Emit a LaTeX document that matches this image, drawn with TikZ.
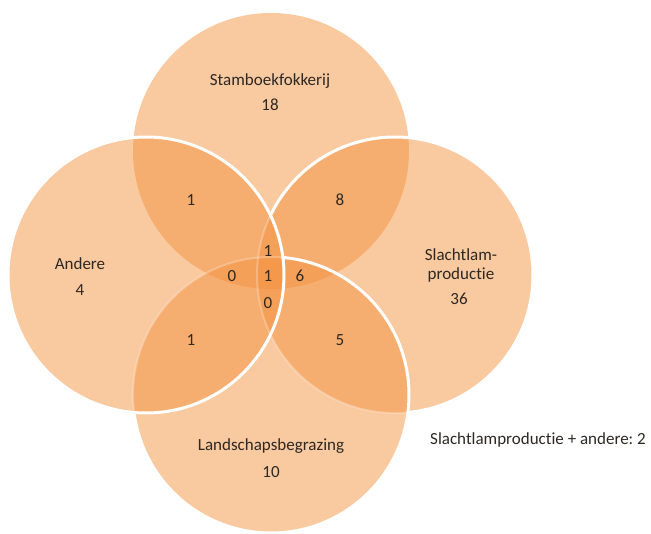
\documentclass[tikz,border=0pt]{standalone}
\usepackage{fontspec}
\setmainfont[Ligatures={NoCommon,NoContextual}]{Carlito}
\definecolor{vorange}{RGB}{243,147,65}
\definecolor{vtext}{RGB}{45,40,35}
\begin{document}
\begin{tikzpicture}[x=1pt,y=-1pt,
  vcirc/.style={circle,minimum size=276pt,inner sep=0pt,fill=vorange,fill opacity=0.5},
  vlab/.style={text=vtext,font=\fontsize{17}{20}\selectfont,inner sep=0pt,align=center},
  rim/.style={draw=white,line width=3pt},
  faintrim/.style={draw=white,line width=2pt,draw opacity=0.25}]
\useasboundingbox (0,0) rectangle (651,534);
% circles (drawing order: top, right, bottom, left)
\node[vcirc] (T) at (271,151) {};
\node[vcirc] (R) at (395,275) {};
\node[vcirc] (B) at (271,395) {};
\node[vcirc] (L) at (146,275) {};
% faint rims inside the overlaps
\draw[faintrim] (R.center) circle (138pt);
\draw[faintrim] (B.center) circle (138pt);
% white rims where visible
\begin{scope}[even odd rule]
  \clip (-10,-10) rectangle (661,544) (L.center) circle (138pt);
  \begin{scope}[even odd rule]
    \clip (-10,-10) rectangle (661,544) (B.center) circle (138pt);
    \draw[rim] (R.center) circle (138pt);
  \end{scope}
  \draw[rim] (B.center) circle (138pt);
\end{scope}
\draw[rim] (L.center) circle (138pt);
% labels
\node[vlab] (tS) at (270,81) {Stamboekfokkerij};
\node[vlab] (nS) at (270,105) {18};
\node[vlab] (tA) at (80,264) {Andere};
\node[vlab] (nA) at (80,290) {4};
\node[vlab] (tR1) at (461,255) {Slachtlam-};
\node[vlab] (tR2) at (461,275) {productie};
\node[vlab] (nR) at (459,299) {36};
\node[vlab] (tB) at (271,446) {Landschapsbegrazing};
\node[vlab] (nB) at (271,472) {10};
\node[vlab] (nTL) at (191,200) {1};
\node[vlab] (nTR) at (340,200) {8};
\node[vlab] (nBL) at (191,340) {1};
\node[vlab] (nBR) at (340,340) {5};
\node[vlab] (c1) at (268,251) {1};
\node[vlab] (c2) at (232,276) {0};
\node[vlab] (c3) at (268,276) {1};
\node[vlab] (c4) at (300,276) {6};
\node[vlab] (c5) at (268,303) {0};
\node[vlab,anchor=west] (note) at (430,440) {Slachtlamproductie + andere:~2};
\end{tikzpicture}
\end{document}
